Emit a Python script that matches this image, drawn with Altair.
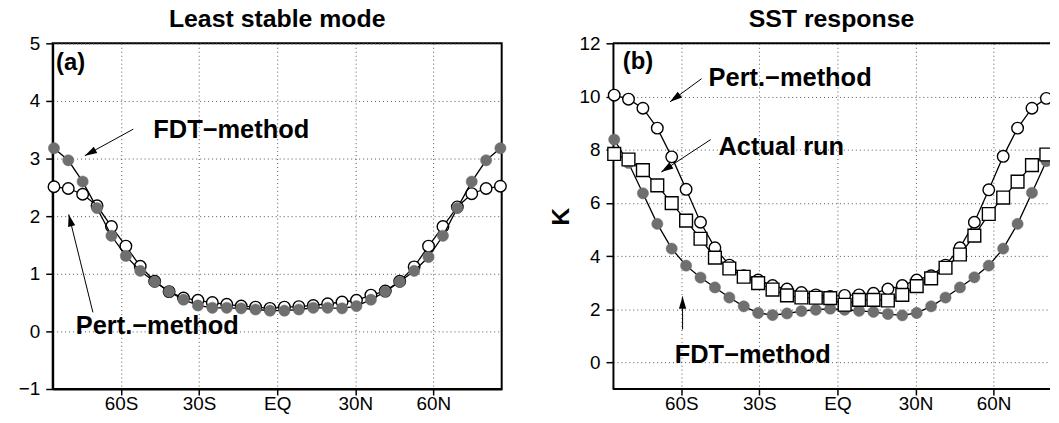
import math
import altair as alt
import pandas as pd

# ---------------- data ----------------
# T21 Gaussian latitudes, south -> north
lats = [-85.76, -80.27, -74.74, -69.21, -63.68, -58.14, -52.61, -47.07,
        -41.53, -36.00, -30.46, -24.92, -19.38, -13.84, -8.31, -2.77,
        2.77, 8.31, 13.84, 19.38, 24.92, 30.46, 36.00, 41.53,
        47.07, 52.61, 58.14, 63.68, 69.21, 74.74, 80.27, 85.76]

# panel (a) Least stable mode
a_fdt = [3.18, 2.97, 2.60, 2.14, 1.66, 1.31, 1.05, 0.86, 0.69, 0.55, 0.45, 0.41, 0.41, 0.40, 0.38, 0.36,
         0.36, 0.38, 0.41, 0.41, 0.40, 0.44, 0.55, 0.69, 0.86, 1.05, 1.29, 1.66, 2.14, 2.60, 2.97, 3.18]
a_pert = [2.51, 2.48, 2.38, 2.18, 1.82, 1.48, 1.13, 0.87, 0.69, 0.58, 0.54, 0.50, 0.47, 0.44, 0.42, 0.40,
          0.42, 0.43, 0.45, 0.48, 0.51, 0.54, 0.63, 0.70, 0.87, 1.12, 1.48, 1.82, 2.16, 2.39, 2.48, 2.52]

# panel (b) SST response
b_fdt = [8.38, 7.50, 6.36, 5.21, 4.28, 3.64, 3.19, 2.82, 2.44, 2.11, 1.86, 1.78, 1.84, 1.93, 1.98, 2.02,
         1.98, 1.94, 1.90, 1.82, 1.77, 1.86, 2.11, 2.44, 2.82, 3.20, 3.64, 4.28, 5.21, 6.38, 7.57, 8.38]
b_pert = [10.05, 9.90, 9.56, 8.81, 7.73, 6.51, 5.27, 4.31, 3.66, 3.26, 3.10, 2.89, 2.76, 2.63, 2.54, 2.48,
          2.52, 2.54, 2.60, 2.76, 2.89, 3.10, 3.26, 3.66, 4.31, 5.27, 6.49, 7.75, 8.81, 9.56, 9.93, 10.10]
b_actual = [7.84, 7.63, 7.23, 6.66, 5.99, 5.33, 4.65, 3.94, 3.53, 3.22, 2.98, 2.74, 2.52, 2.44, 2.43, 2.42,
            2.17, 2.35, 2.35, 2.33, 2.54, 2.87, 3.16, 3.56, 4.06, 4.77, 5.58, 6.20, 6.80, 7.42, 7.82, 7.55]

xtick_values = [-60, -30, 0, 30, 60]
xtick_labels = ["60S", "30S", "EQ", "30N", "60N"]
a_yticks = [-1, 0, 1, 2, 3, 4, 5]
b_yticks = [0, 2, 4, 6, 8, 10, 12]

# annotations: text (left-anchored) and arrows (start -> tip), in data coords
a_text = ["(a)", "FDT\u2212method", "Pert.\u2212method"]
a_text_lat = [-85.0, -47.6, -77.4]
a_text_val = [4.65, 3.49, 0.10]
a_text_size = [24, 25.6, 25.6]
a_arrow_lat = [-55.3, -70.8]
a_arrow_val = [3.51, 0.33]
a_arrow_lat2 = [-73.9, -80.1]
a_arrow_val2 = [3.05, 2.03]

b_text = ["(b)", "Pert.\u2212method", "Actual run", "FDT\u2212method"]
b_text_lat = [-82.5, -49.5, -45.7, -62.5]
b_text_val = [11.28, 10.69, 8.10, 0.28]
b_text_size = [24, 25.6, 25.6, 25.6]
b_arrow_lat = [-52.2, -48.7, -59.5]
b_arrow_val = [10.67, 8.38, 1.24]
b_arrow_lat2 = [-64.3, -67.7, -59.5]
b_arrow_val2 = [9.80, 7.16, 2.48]

# ---------------- style ----------------
W = 452             # panel (a) plot width
WB = 440            # panel (b) visible width (the panel runs off the page edge)
H = 348
XDOM = [-86.25, 86.25]
XDOM_B = [XDOM[0], XDOM[0] + (XDOM[1] - XDOM[0]) * WB / W]   # same px/deg, cut on the right
FONT = "Liberation Sans"
GRAY = "#6f6f6f"
ARROW_PATH = "M0,0L0.6,2L-0.6,2Z"

label_expr = " : ".join(
    f"datum.value == {v} ? '{l}'" for v, l in zip(xtick_values, xtick_labels)) + " : ''"


def make_xaxis(domain=True):
    return alt.Axis(values=xtick_values, labelExpr=label_expr, title=None, grid=True,
                    domain=domain)


def series_layers(df, style, xscale, xaxis, yscale, yaxis, clip):
    x = alt.X("lat:Q", scale=xscale, axis=xaxis)
    yy = alt.Y("value:Q", scale=yscale, axis=yaxis)
    line = alt.Chart(df).mark_line(color="black", strokeWidth=1.3, clip=clip).encode(x=x, y=yy)
    if style == "filled":
        kw = dict(shape="circle", fill=GRAY, stroke=GRAY, strokeWidth=0.5, size=128)
    elif style == "open":
        kw = dict(shape="circle", fill="white", stroke="black", strokeWidth=1.4, size=135)
    else:
        kw = dict(shape="square", fill="white", stroke="black", strokeWidth=1.4, size=165)
    layers = [line]
    layers.append(alt.Chart(df).transform_filter("datum.lat < 0").mark_point(
        filled=True, opacity=1, **kw).encode(x=x, y=yy))
    layers.append(alt.Chart(df).transform_filter("datum.lat > 0").mark_point(
        filled=True, opacity=1, clip=clip, **kw).encode(x=x, y=yy))
    return layers


def annotation_layers(texts, tl, tv, ts, al, av, al2, av2, ydom, xscale, yscale):
    tdf = pd.DataFrame({"lat": tl, "value": tv, "label": texts, "fs": ts})
    layers = []
    for fs in sorted(set(ts)):
        layers.append(
            alt.Chart(tdf).transform_filter(f"datum.fs == {fs}").mark_text(
                align="left", baseline="middle", font=FONT, fontWeight="bold",
                fontSize=fs, color="black").encode(
                x=alt.X("lat:Q", scale=xscale), y=alt.Y("value:Q", scale=yscale),
                text="label:N"))
    ppd = W / (XDOM[1] - XDOM[0])
    ppu = H / (ydom[1] - ydom[0])
    angles = []
    for x0, y0, x1, y1 in zip(al, av, al2, av2):
        dx = (x1 - x0) * ppd
        dy = -(y1 - y0) * ppu
        angles.append(math.degrees(math.atan2(dx, -dy)) % 360)
    adf = pd.DataFrame({"lat": al, "value": av, "lat2": al2, "value2": av2, "angle": angles})
    layers.append(alt.Chart(adf).mark_rule(color="black", strokeWidth=1).encode(
        x=alt.X("lat:Q", scale=xscale), y=alt.Y("value:Q", scale=yscale),
        x2="lat2:Q", y2="value2:Q"))
    layers.append(alt.Chart(adf).mark_point(shape=ARROW_PATH, filled=True, color="black",
                                            opacity=1, size=150).encode(
        x=alt.X("lat2:Q", scale=xscale), y=alt.Y("value2:Q", scale=yscale),
        angle=alt.Angle("angle:Q", scale=None)))
    return layers


def title(text):
    return alt.TitleParams(text, font=FONT, fontSize=25, fontWeight="bold",
                           anchor="middle", offset=2.6, color="black")


# ---------------- panel (a) ----------------
a_ydom = [-1, 5]
a_xscale = alt.Scale(domain=XDOM, nice=False, zero=False)
a_yscale = alt.Scale(domain=a_ydom, nice=False, zero=False)
a_yaxis = alt.Axis(values=a_yticks, title=None, grid=True, format="d")
dfa_pert = pd.DataFrame({"lat": lats, "value": a_pert})
dfa_fdt = pd.DataFrame({"lat": lats, "value": a_fdt})
a_layers = (series_layers(dfa_pert, "open", a_xscale, make_xaxis(), a_yscale, a_yaxis, False)
            + series_layers(dfa_fdt, "filled", a_xscale, make_xaxis(), a_yscale, a_yaxis, False)
            + annotation_layers(a_text, a_text_lat, a_text_val, a_text_size,
                                a_arrow_lat, a_arrow_val, a_arrow_lat2, a_arrow_val2,
                                a_ydom, a_xscale, a_yscale))
panel_a = alt.layer(*a_layers).properties(width=W, height=H, title=title("Least stable mode"))

# ---------------- panel (b) ----------------
b_ydom = [-1, 12]
b_xscale = alt.Scale(domain=XDOM_B, nice=False, zero=False)
b_yscale = alt.Scale(domain=b_ydom, nice=False, zero=False)
b_yaxis = alt.Axis(values=b_yticks, title="K", grid=True, format="d",
                   titleFont=FONT, titleFontSize=25, titleFontWeight="bold",
                   titlePadding=6, titleColor="black")
dfb_fdt = pd.DataFrame({"lat": lats, "value": b_fdt})
dfb_pert = pd.DataFrame({"lat": lats, "value": b_pert})
dfb_act = pd.DataFrame({"lat": lats, "value": b_actual})
bx = make_xaxis(domain=False)
frame_top = alt.Chart(pd.DataFrame({"v": [b_ydom[1]]})).mark_rule(
    color="black", strokeWidth=2).encode(y=alt.Y("v:Q", scale=b_yscale))
frame_bottom = alt.Chart(pd.DataFrame({"v": [b_ydom[0]]})).mark_rule(
    color="black", strokeWidth=2).encode(y=alt.Y("v:Q", scale=b_yscale))
b_layers = (series_layers(dfb_fdt, "filled", b_xscale, bx, b_yscale, b_yaxis, True)
            + series_layers(dfb_pert, "open", b_xscale, bx, b_yscale, b_yaxis, True)
            + series_layers(dfb_act, "square", b_xscale, bx, b_yscale, b_yaxis, True)
            + annotation_layers(b_text, b_text_lat, b_text_val, b_text_size,
                                b_arrow_lat, b_arrow_val, b_arrow_lat2, b_arrow_val2,
                                b_ydom, b_xscale, b_yscale)
            + [frame_top, frame_bottom])
panel_b = alt.layer(*b_layers).properties(
    width=WB, height=H, title=title("SST response"),
    view=alt.ViewConfig(strokeOpacity=0))

chart = alt.hconcat(panel_a, panel_b, spacing=112, bounds="flush").properties(
    padding={"left": 9, "top": -3.8, "right": 0, "bottom": 0}
).configure_view(
    stroke="black", strokeWidth=2
).configure_axis(
    domainColor="black", domainWidth=2, tickColor="black", tickWidth=1.5, tickSize=7,
    labelFont=FONT, labelFontSize=19, labelColor="black",
    gridColor="#555555", gridDash=[1, 3], gridWidth=1
).configure_axisX(labelPadding=0, tickSize=6).configure_axisY(labelPadding=6)

chart.save("out.html", embed_options={"renderer": "svg", "actions": False})
